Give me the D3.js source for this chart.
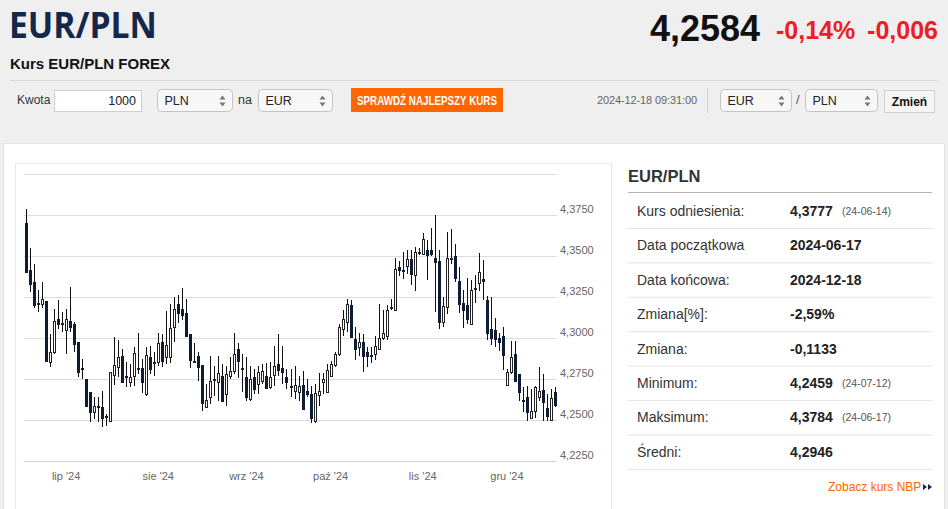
<!DOCTYPE html>
<html>
<head>
  <meta charset="utf-8">
  <style>
    html, body { margin: 0; padding: 0; background: #efefef; }
    svg { display: block; font-family: "Liberation Sans", Arial, sans-serif; }
  </style>
</head>
<body>
  <div id="page"></div>

  <script src="https://d3js.org/d3.v7.min.js"></script>
  <script>
    // EUR/PLN daily candles, 2024-06-17 .. 2024-12-18 (weekdays)
    var openVals = [
      4.3700,4.3413,4.3340,4.3205,4.3210,4.3223,4.2852,4.2913,4.3117,4.3085,
      4.3046,4.3103,4.3083,4.2974,4.2815,4.2750,4.2668,4.2546,4.2585,4.2577,
      4.2523,4.2495,4.2777,4.2821,4.2893,4.2768,4.2730,4.2770,4.2815,4.2815,
      4.2658,4.2883,4.2851,4.2853,4.2974,4.2883,4.2883,4.3070,4.3210,4.3175,
      4.3154,4.3026,4.2862,4.2893,4.2838,4.2581,4.2638,4.2749,4.2730,4.2770,
      4.2658,4.2770,4.2801,4.2930,4.2815,4.2760,4.2628,4.2760,4.2719,4.2740,
      4.2770,4.2699,4.2777,4.2842,4.2820,4.2760,4.2706,4.2679,4.2668,4.2715,
      4.2679,4.2658,4.2491,4.2654,4.2729,4.2668,4.2770,4.2838,4.2903,4.3057,
      4.3097,4.3199,4.2995,4.2944,4.2974,4.2913,4.2895,4.2903,4.2934,4.3001,
      4.3015,4.3188,4.3168,4.3434,4.3414,4.3438,4.3479,4.3383,4.3524,4.3515,
      4.3536,4.3536,4.3485,4.3468,4.3097,4.3189,4.3483,4.3499,4.3348,4.3213,
      4.3199,4.3087,4.3302,4.3336,4.3361,4.3230,4.3056,4.3046,4.2999,4.3015,
      4.2715,4.2791,4.2903,4.2781,4.2623,4.2638,4.2515,4.2556,4.2638,4.2683,
      4.2572,4.2499,4.2668
    ];
    var highVals = [
      4.3784,4.3546,4.3450,4.3290,4.3342,4.3227,4.3026,4.3179,4.3230,4.3158,
      4.3179,4.3311,4.3097,4.2975,4.2872,4.2750,4.2668,4.2638,4.2638,4.2679,
      4.2536,4.2791,4.3005,4.2985,4.2934,4.2852,4.2842,4.2944,4.3030,4.2872,
      4.2944,4.2954,4.2913,4.3030,4.3026,4.3162,4.3205,4.3250,4.3264,4.3307,
      4.3239,4.3026,4.2968,4.2913,4.2838,4.2719,4.2893,4.2832,4.2893,4.2842,
      4.2832,4.2883,4.3030,4.2968,4.2903,4.2883,4.2832,4.2811,4.2832,4.2842,
      4.2846,4.2852,4.2954,4.3026,4.2950,4.2811,4.2811,4.2832,4.2771,4.2801,
      4.2750,4.2709,4.2719,4.2785,4.2785,4.2842,4.2862,4.2913,4.3087,4.3168,
      4.3240,4.3230,4.3070,4.3030,4.3026,4.2944,4.2948,4.3015,4.3205,4.3168,
      4.3199,4.3240,4.3485,4.3470,4.3526,4.3536,4.3536,4.3556,4.3550,4.3638,
      4.3597,4.3668,4.3750,4.3536,4.3250,4.3648,4.3662,4.3572,4.3434,4.3295,
      4.3368,4.3356,4.3383,4.3519,4.3474,4.3254,4.3250,4.3123,4.3030,4.3070,
      4.2811,4.2979,4.2979,4.2781,4.2699,4.2709,4.2689,4.2709,4.2822,4.2781,
      4.2658,4.2689,4.2703
    ];
    var lowVals = [
      4.3403,4.3281,4.3180,4.3160,4.3180,4.2862,4.2821,4.2903,4.3056,4.3036,
      4.2903,4.3036,4.2913,4.2760,4.2750,4.2577,4.2485,4.2505,4.2485,4.2459,
      4.2464,4.2495,4.2715,4.2760,4.2730,4.2699,4.2699,4.2709,4.2780,4.2662,
      4.2648,4.2780,4.2770,4.2832,4.2821,4.2842,4.2846,4.2974,4.3091,4.3111,
      4.3015,4.2815,4.2846,4.2740,4.2552,4.2577,4.2597,4.2648,4.2617,4.2617,
      4.2587,4.2750,4.2780,4.2754,4.2668,4.2617,4.2617,4.2658,4.2658,4.2720,
      4.2690,4.2690,4.2709,4.2770,4.2719,4.2689,4.2638,4.2628,4.2617,4.2566,
      4.2638,4.2479,4.2479,4.2587,4.2658,4.2662,4.2760,4.2821,4.2893,4.3015,
      4.3036,4.3005,4.2866,4.2893,4.2791,4.2821,4.2846,4.2866,4.2924,4.2990,
      4.2985,4.3168,4.3168,4.3377,4.3362,4.3389,4.3321,4.3287,4.3505,4.3505,
      4.3352,4.3499,4.3158,4.3056,4.3066,4.3148,4.3450,4.3342,4.3152,4.3062,
      4.3083,4.3083,4.3213,4.3287,4.3230,4.2985,4.2960,4.2944,4.2923,4.2805,
      4.2709,4.2781,4.2729,4.2617,4.2546,4.2495,4.2505,4.2515,4.2617,4.2495,
      4.2495,4.2491,4.2577
    ];
    var closeVals = [
      4.3403,4.3332,4.3200,4.3215,4.3240,4.2862,4.2913,4.3103,4.3083,4.3090,
      4.3117,4.3066,4.2964,4.2791,4.2810,4.2587,4.2546,4.2587,4.2580,4.2515,
      4.2521,4.2791,4.2836,4.2883,4.2730,4.2765,4.2760,4.2907,4.2817,4.2730,
      4.2899,4.2811,4.2853,4.2968,4.2862,4.2960,4.3062,4.3179,4.3154,4.3138,
      4.3015,4.2867,4.2860,4.2821,4.2603,4.2622,4.2736,4.2751,4.2785,4.2617,
      4.2781,4.2801,4.2903,4.2862,4.2817,4.2641,4.2750,4.2689,4.2790,4.2797,
      4.2695,4.2760,4.2832,4.2805,4.2790,4.2729,4.2704,4.2715,4.2709,4.2566,
      4.2658,4.2515,4.2662,4.2679,4.2750,4.2805,4.2842,4.2903,4.3066,4.3117,
      4.3209,4.3005,4.2934,4.2974,4.2893,4.2893,4.2893,4.2954,4.3001,4.3030,
      4.3168,4.3190,4.3423,4.3413,4.3413,4.3479,4.3393,4.3526,4.3526,4.3601,
      4.3505,4.3511,4.3464,4.3097,4.3193,4.3485,4.3485,4.3368,4.3209,4.3172,
      4.3117,4.3295,4.3303,4.3403,4.3348,4.3030,4.3001,4.2995,4.2974,4.2899,
      4.2790,4.2887,4.2740,4.2668,4.2621,4.2546,4.2552,4.2703,4.2675,4.2607,
      4.2526,4.2634,4.2593
    ];

    var firstDay = new Date(2024, 5, 17);
    var lastDay = new Date(2024, 11, 18);
    var monthLabels = ["lip '24", "sie '24", "wrz '24", "paź '24", "lis '24", "gru '24"];
    var yTickVals = [4.225, 4.25, 4.275, 4.3, 4.325, 4.35, 4.375, 4.4];

    var statLabels = ["Kurs odniesienia:", "Data początkowa", "Data końcowa:", "Zmiana[%]:",
                      "Zmiana:", "Minimum:", "Maksimum:", "Średni:"];
    var statValues = ["4,3777", "2024-06-17", "2024-12-18", "-2,59%", "-0,1133", "4,2459", "4,3784", "4,2946"];
    var statDates = ["(24-06-14)", "", "", "", "", "(24-07-12)", "(24-06-17)", ""];

    var W = 948, H = 509;
    var svg = d3.select("#page").append("svg")
        .attr("width", W)
        .attr("height", H);

    // ---------- header ----------
    svg.append("text")
        .attr("x", 9).attr("y", 38)
        .style("font-family", "'Open Sans', sans-serif")
        .style("font-size", "35px")
        .style("font-weight", 700)
        .attr("textLength", 148)
        .attr("lengthAdjust", "spacingAndGlyphs")
        .attr("fill", "#14284b")
        .text("EUR/PLN");

    svg.append("text")
        .attr("x", 10).attr("y", 69)
        .style("font-size", "15px")
        .style("font-weight", "bold")
        .attr("fill", "#111")
        .text("Kurs EUR/PLN FOREX");

    svg.append("text")
        .attr("x", 760).attr("y", 41)
        .attr("text-anchor", "end")
        .style("font-size", "36px")
        .style("font-weight", "bold")
        .attr("fill", "#111")
        .text("4,2584");
    svg.append("text")
        .attr("x", 776).attr("y", 39)
        .style("font-size", "25px")
        .style("font-weight", "bold")
        .attr("fill", "#ee1c25")
        .text("-0,14%");
    svg.append("text")
        .attr("x", 938).attr("y", 39)
        .attr("text-anchor", "end")
        .style("font-size", "25px")
        .style("font-weight", "bold")
        .attr("fill", "#ee1c25")
        .text("-0,006");

    svg.append("line")
        .attr("x1", 10).attr("x2", 938)
        .attr("y1", 80.5).attr("y2", 80.5)
        .attr("stroke", "#d9d9d9");

    // form row
    function label(x, txt, size, color) {
      return svg.append("text")
          .attr("x", x).attr("y", 104)
          .style("font-size", (size || 12) + "px")
          .attr("fill", color || "#333")
          .text(txt);
    }
    function select(x, w, txt) {
      var g = svg.append("g").attr("transform", "translate(" + x + ",89.5)");
      g.append("rect")
          .attr("width", w).attr("height", 22).attr("rx", 4)
          .attr("fill", "#f7f7f7").attr("stroke", "#c4c4c4");
      g.append("text")
          .attr("x", 7).attr("y", 15)
          .style("font-size", "12.5px")
          .attr("fill", "#222")
          .text(txt);
      g.append("path")
          .attr("d", "M" + (w - 13) + ",10 l3,-4 l3,4 z M" + (w - 13) + ",13 l3,4 l3,-4 z")
          .attr("fill", "#777");
    }

    label(17, "Kwota");
    svg.append("rect")
        .attr("x", 54.5).attr("y", 90.5).attr("width", 87).attr("height", 21)
        .attr("fill", "#fff").attr("stroke", "#cfcfcf");
    svg.append("text")
        .attr("x", 136).attr("y", 105)
        .attr("text-anchor", "end")
        .style("font-size", "12.5px")
        .attr("fill", "#222")
        .text("1000");
    select(157.5, 75, "PLN");
    label(238, "na", 12.5);
    select(258.5, 74, "EUR");

    svg.append("rect")
        .attr("x", 351).attr("y", 88).attr("width", 152).attr("height", 24)
        .attr("fill", "#ff6600");
    svg.append("text")
        .attr("x", 357).attr("y", 104.5)
        .attr("textLength", 140)
        .attr("lengthAdjust", "spacingAndGlyphs")
        .style("font-size", "12px")
        .style("font-weight", "bold")
        .attr("fill", "#fff")
        .text("SPRAWDŹ NAJLEPSZY KURS");

    svg.append("text")
        .attr("x", 597).attr("y", 104)
        .attr("textLength", 100)
        .style("font-size", "11px")
        .attr("fill", "#666")
        .text("2024-12-18 09:31:00");
    svg.append("line")
        .attr("x1", 707.5).attr("x2", 707.5)
        .attr("y1", 88).attr("y2", 113)
        .attr("stroke", "#d0d0d0");
    select(720.5, 71, "EUR");
    label(796, "/", 13, "#555");
    select(805.5, 72, "PLN");
    svg.append("rect")
        .attr("x", 884.5).attr("y", 90.5).attr("width", 50).attr("height", 22)
        .attr("fill", "#f5f5f5").attr("stroke", "#cfcfcf");
    svg.append("text")
        .attr("x", 909.5).attr("y", 106)
        .attr("text-anchor", "middle")
        .style("font-size", "12px")
        .style("font-weight", "bold")
        .attr("fill", "#111")
        .text("Zmień");

    // ---------- white panel ----------
    svg.append("rect")
        .attr("x", 3.5).attr("y", 143.5).attr("width", 941).attr("height", 380)
        .attr("fill", "#fff").attr("stroke", "#e3e3e3");
    svg.append("rect")
        .attr("x", 15.5).attr("y", 163.5).attr("width", 596).attr("height", 360)
        .attr("fill", "#fff").attr("stroke", "#e8e8e8");

    // ---------- candlestick chart ----------
    var days = d3.timeDay.range(firstDay, d3.timeDay.offset(lastDay, 1))
        .filter(d => d.getDay() !== 0 && d.getDay() !== 6);

    var data = days.map((d, i) => ({
      date: d, open: openVals[i], high: highVals[i], low: lowVals[i], close: closeVals[i]
    }));

    var x = d3.scaleBand()
        .domain(days)
        .range([24, 557]);

    var y = d3.scaleLinear()
        .domain([4.225, 4.4])
        .range([461, 174]);

    var plotL = 24, plotR = 557;
    var fmt = v => d3.format(".4f")(v).replace(".", ",");

    // grid
    svg.append("g")
        .selectAll("line")
        .data(yTickVals.slice(1))
        .join("line")
        .attr("x1", plotL).attr("x2", plotR)
        .attr("y1", d => Math.round(y(d)) + 0.5)
        .attr("y2", d => Math.round(y(d)) + 0.5)
        .attr("stroke", "#dcdcdc");

    // y labels on the right
    svg.append("g")
        .selectAll("text")
        .data(yTickVals.slice(0, -1))
        .join("text")
        .attr("x", 560)
        .attr("y", d => Math.round(y(d)) - 2)
        .style("font-size", "11px")
        .attr("fill", "#666")
        .text(fmt);

    // x axis
    var monthStarts = [];
    days.forEach((d, i) => {
      if (i > 0 && d.getMonth() !== days[i - 1].getMonth()) monthStarts.push(d);
    });

    var xAxis = d3.axisBottom(x)
        .tickValues(monthStarts)
        .tickSize(0)
        .tickPadding(11)
        .tickFormat((d, i) => monthLabels[i]);

    var gx = svg.append("g")
        .attr("transform", "translate(0,461)")
        .call(xAxis);
    gx.select(".domain").attr("stroke", "#ccd6eb").attr("d", "M" + plotL + ",0.5H" + plotR);
    gx.selectAll("text")
        .style("font-family", "'Liberation Sans', Arial, sans-serif")
        .style("font-size", "11px")
        .attr("fill", "#666");

    var half = x.bandwidth() / 2;
    var cx = d => Math.round(x(d.date) + half);

    var candles = svg.append("g")
        .selectAll("g")
        .data(data)
        .join("g");

    candles.append("line")
        .attr("x1", d => cx(d) + 0.5)
        .attr("x2", d => cx(d) + 0.5)
        .attr("y1", d => Math.round(y(d.high)))
        .attr("y2", d => Math.round(y(d.low)))
        .attr("stroke", "#111");

    candles.append("rect")
        .attr("x", d => cx(d) - 0.5)
        .attr("width", 2)
        .attr("y", d => Math.round(y(Math.max(d.open, d.close))) + 0.5)
        .attr("height", d => Math.max(1, Math.round(y(Math.min(d.open, d.close))) - Math.round(y(Math.max(d.open, d.close)))))
        .attr("fill", d => d.close >= d.open ? "#fff" : "#0e1c34")
        .attr("stroke", d => d.close >= d.open ? "#222" : "#0e1c34");

    // ---------- stats table ----------
    svg.append("text")
        .attr("x", 628).attr("y", 182)
        .style("font-size", "16.5px")
        .style("font-weight", "bold")
        .attr("fill", "#333")
        .text("EUR/PLN");
    svg.append("line")
        .attr("x1", 628).attr("x2", 932)
        .attr("y1", 192.5).attr("y2", 192.5)
        .attr("stroke", "#b5b5b5");

    var rowY = d3.scaleLinear().domain([0, 1]).range([211, 245.4]);

    var rows = svg.append("g")
        .selectAll("g")
        .data(statLabels)
        .join("g")
        .attr("transform", (d, i) => "translate(0," + rowY(i) + ")");

    rows.append("line")
        .attr("x1", 628).attr("x2", 932)
        .attr("y1", 17.5).attr("y2", 17.5)
        .attr("stroke", "#e4e4e4");
    rows.append("text")
        .attr("x", 637).attr("y", 5)
        .style("font-size", "14px")
        .attr("fill", "#333")
        .text(d => d);
    rows.append("text")
        .attr("x", 790).attr("y", 5)
        .style("font-size", "14px")
        .style("font-weight", "bold")
        .attr("fill", "#222")
        .text((d, i) => statValues[i]);
    rows.append("text")
        .attr("x", 842).attr("y", 4)
        .style("font-size", "10.5px")
        .attr("fill", "#555")
        .text((d, i) => statDates[i]);

    svg.append("text")
        .attr("x", 828).attr("y", 491)
        .style("font-size", "12px")
        .attr("fill", "#ff6600")
        .text("Zobacz kurs NBP");
    svg.append("path")
        .attr("d", "M923,484 l4,3 l-4,3 z M928,484 l4,3 l-4,3 z")
        .attr("fill", "#14284b");
  </script>
</body>
</html>
